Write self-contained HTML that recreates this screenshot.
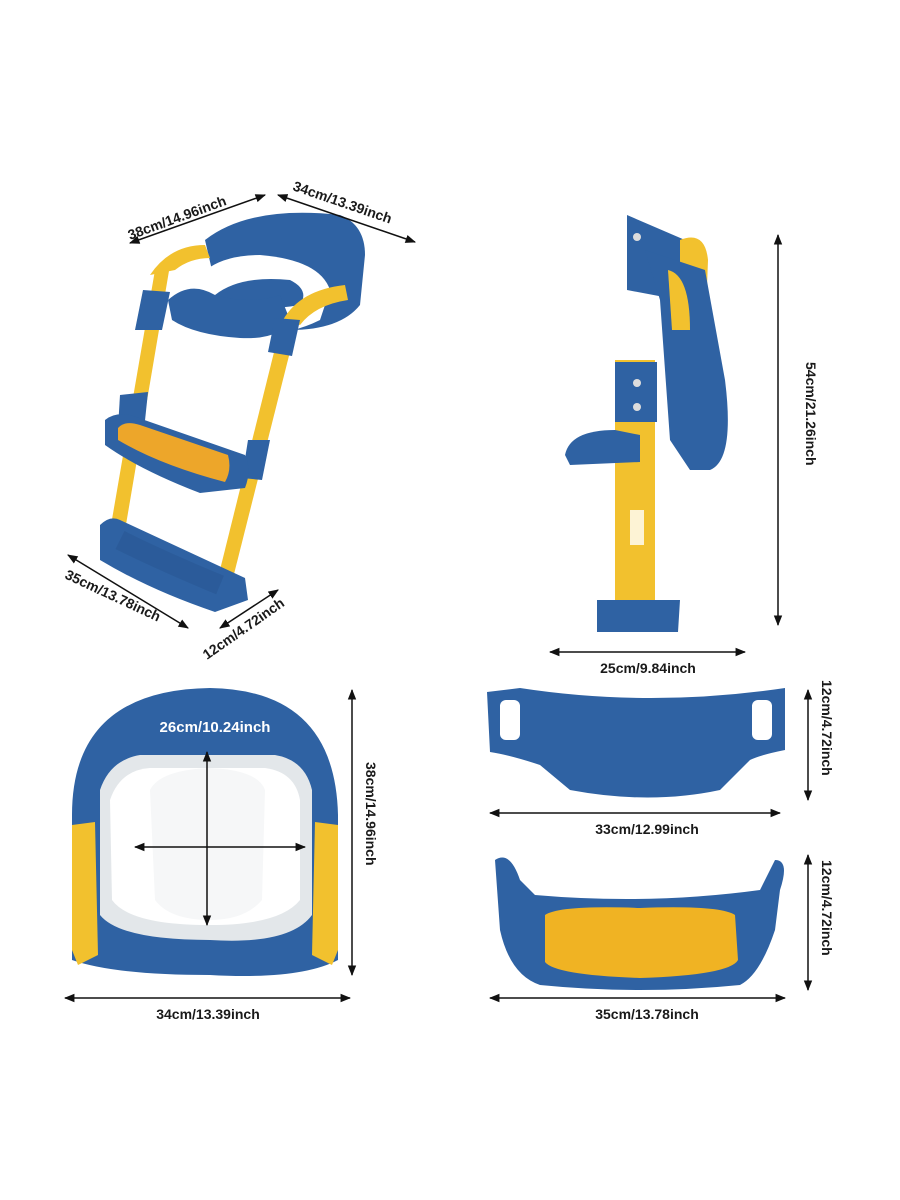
<!DOCTYPE html>
<html><head><meta charset="utf-8"><style>
html,body{margin:0;padding:0;background:#fff;}
svg{display:block;}
text{font-family:"Liberation Sans",sans-serif;font-size:14px;fill:#1a1a1a;font-weight:bold;}
</style></head><body>
<svg width="900" height="1200" viewBox="0 0 900 1200" xmlns="http://www.w3.org/2000/svg">
<defs>
<marker id="a" viewBox="0 0 10 10" refX="9" refY="5" markerWidth="7" markerHeight="7" orient="auto-start-reverse"><path d="M0,1 L10,5 L0,9 z" fill="#111"/></marker>
</defs>
<rect width="900" height="1200" fill="#fff"/>

<!-- ===== Ladder (top-left) ===== -->
<path d="M155,270 L170,265 L120,560 L105,560 Z" fill="#f2c12e"/>
<path d="M282,320 L298,320 L230,590 L215,590 Z" fill="#f2c12e"/>
<path d="M205,240 Q250,205 340,215 Q365,225 365,255 L360,305 Q340,330 290,330 L220,305 Z" fill="#2f62a3"/>
<path d="M185,300 Q200,255 260,255 Q320,260 330,290 L320,320 Q270,345 210,325 Z" fill="#fff"/>
<path d="M215,295 Q240,275 290,280 Q310,290 300,305 Q260,312 220,305 Z" fill="#2f62a3"/>
<path d="M168,300 Q190,280 215,295 Q250,305 280,295 L290,320 Q280,340 240,338 Q195,335 172,320 Z" fill="#2f62a3"/>
<path d="M150,275 Q170,245 205,245 L210,258 Q190,258 175,270 Z" fill="#f2c12e"/>
<path d="M283,320 Q300,290 345,285 L348,300 Q315,305 300,325 Z" fill="#f2c12e"/>
<path d="M143,290 L170,292 L162,330 L135,330 Z" fill="#2f62a3"/>
<path d="M275,318 L300,320 L292,356 L268,352 Z" fill="#2f62a3"/>
<path d="M120,395 L148,392 L144,430 L118,428 Z" fill="#2f62a3"/>
<path d="M248,440 L270,440 L262,480 L242,478 Z" fill="#2f62a3"/>
<path d="M105,420 Q115,412 130,415 L245,455 Q252,470 245,488 L200,493 Q140,470 105,445 Z" fill="#2f62a3"/>
<path d="M118,428 Q125,420 140,425 L228,455 Q232,470 225,482 Q160,465 118,440 Z" fill="#eda62a"/>
<path d="M100,525 Q110,515 120,520 L245,578 L248,600 L215,612 Q150,590 100,560 Z" fill="#2f62a3"/>
<path d="M120,540 Q160,560 220,585" stroke="#26538c" stroke-width="20" fill="none" opacity="0.4"/>

<line x1="130" y1="243" x2="265" y2="195" stroke="#111" stroke-width="1.5" marker-start="url(#a)" marker-end="url(#a)"/>
<text transform="translate(130,240) rotate(-20)">38cm/14.96inch</text>
<line x1="278" y1="195" x2="415" y2="242" stroke="#111" stroke-width="1.5" marker-start="url(#a)" marker-end="url(#a)"/>
<text transform="translate(292,190) rotate(19)">34cm/13.39inch</text>
<line x1="68" y1="555" x2="188" y2="628" stroke="#111" stroke-width="1.5" marker-start="url(#a)" marker-end="url(#a)"/>
<text transform="translate(64,578) rotate(25)">35cm/13.78inch</text>
<line x1="220" y1="628" x2="278" y2="590" stroke="#111" stroke-width="1.5" marker-start="url(#a)" marker-end="url(#a)"/>
<text transform="translate(207,660) rotate(-35)">12cm/4.72inch</text>

<!-- ===== Side view ===== -->
<path d="M627,215 L685,240 L680,300 L627,290 Z" fill="#2f62a3"/>
<path d="M680,240 Q705,230 708,260 L705,340 L690,350 L680,310 Z" fill="#f2c12e"/>
<path d="M645,250 L705,270 L725,380 Q735,460 710,470 L690,470 L670,440 L660,300 Z" fill="#2f62a3"/>
<path d="M668,270 Q690,275 690,330 L672,330 Z" fill="#f2c12e"/>
<rect x="615" y="360" width="40" height="240" fill="#f2c12e"/>
<rect x="615" y="362" width="42" height="60" fill="#2f62a3"/>
<path d="M565,455 Q570,430 615,430 L640,435 L640,462 L570,465 Z" fill="#2f62a3"/>
<rect x="630" y="510" width="14" height="35" fill="#fff" opacity="0.8"/>
<path d="M597,600 L680,600 L678,632 L597,632 Z" fill="#2f62a3"/>
<circle cx="637" cy="237" r="4" fill="#ddd"/><circle cx="637" cy="383" r="4" fill="#ddd"/><circle cx="637" cy="407" r="4" fill="#ddd"/>

<line x1="778" y1="235" x2="778" y2="625" stroke="#111" stroke-width="1.5" marker-start="url(#a)" marker-end="url(#a)"/>
<text transform="translate(806,362) rotate(90)">54cm/21.26inch</text>
<line x1="550" y1="652" x2="745" y2="652" stroke="#111" stroke-width="1.5" marker-start="url(#a)" marker-end="url(#a)"/>
<text x="648" y="673" text-anchor="middle">25cm/9.84inch</text>

<!-- ===== Seat (bottom-left) ===== -->
<path d="M72,815 Q72,690 210,688 Q335,690 338,815 L338,960 Q300,980 210,975 Q115,975 72,960 Z" fill="#2f62a3"/>
<path d="M100,790 Q110,760 140,755 L275,755 Q305,760 312,790 L312,915 Q290,945 210,940 Q120,940 100,915 Z" fill="#e3e7ea"/>
<path d="M110,800 Q120,770 150,768 L265,768 Q295,772 300,800 L300,900 Q280,925 210,925 Q130,925 112,900 Z" fill="#fff"/>
<path d="M150,790 Q160,770 210,768 Q258,770 265,790 L262,900 Q245,920 210,920 Q170,920 155,900 Z" fill="#f6f7f8"/>
<path d="M72,825 L95,822 L98,955 L78,965 L72,950 Z" fill="#f2c12e"/>
<path d="M315,822 L338,825 L338,950 L332,965 L312,955 Z" fill="#f2c12e"/>
<text x="215" y="732" text-anchor="middle" style="fill:#fff;font-weight:bold;font-size:15px">26cm/10.24inch</text>
<line x1="207" y1="752" x2="207" y2="925" stroke="#111" stroke-width="1.5" marker-start="url(#a)" marker-end="url(#a)"/>
<line x1="135" y1="847" x2="305" y2="847" stroke="#111" stroke-width="1.5" marker-start="url(#a)" marker-end="url(#a)"/>
<line x1="352" y1="690" x2="352" y2="975" stroke="#111" stroke-width="1.5" marker-start="url(#a)" marker-end="url(#a)"/>
<text transform="translate(366,762) rotate(90)">38cm/14.96inch</text>
<line x1="65" y1="998" x2="350" y2="998" stroke="#111" stroke-width="1.5" marker-start="url(#a)" marker-end="url(#a)"/>
<text x="208" y="1019" text-anchor="middle">34cm/13.39inch</text>

<!-- ===== Step panel 1 ===== -->
<path d="M487,692 L520,688 Q650,708 785,688 L785,750 Q760,755 750,760 L720,790 Q650,805 570,790 L540,765 Q510,755 490,752 Z" fill="#2f62a3"/>
<rect x="500" y="700" width="20" height="40" rx="6" fill="#fff"/>
<rect x="752" y="700" width="20" height="40" rx="6" fill="#fff"/>
<line x1="808" y1="690" x2="808" y2="800" stroke="#111" stroke-width="1.5" marker-start="url(#a)" marker-end="url(#a)"/>
<text transform="translate(822,680) rotate(90)">12cm/4.72inch</text>
<line x1="490" y1="813" x2="780" y2="813" stroke="#111" stroke-width="1.5" marker-start="url(#a)" marker-end="url(#a)"/>
<text x="647" y="834" text-anchor="middle">33cm/12.99inch</text>

<!-- ===== Step panel 2 ===== -->
<path d="M495,860 Q510,850 520,880 L535,895 Q650,905 760,890 L775,860 Q790,860 780,890 L775,930 Q760,975 740,985 Q640,995 540,985 Q510,975 500,930 Z" fill="#2f62a3"/>
<path d="M545,915 Q560,905 640,908 Q720,905 735,915 L738,960 Q730,975 640,978 Q555,975 545,962 Z" fill="#f0b323"/>
<line x1="808" y1="855" x2="808" y2="990" stroke="#111" stroke-width="1.5" marker-start="url(#a)" marker-end="url(#a)"/>
<text transform="translate(822,860) rotate(90)">12cm/4.72inch</text>
<line x1="490" y1="998" x2="785" y2="998" stroke="#111" stroke-width="1.5" marker-start="url(#a)" marker-end="url(#a)"/>
<text x="647" y="1019" text-anchor="middle">35cm/13.78inch</text>
</svg>
</body></html>
